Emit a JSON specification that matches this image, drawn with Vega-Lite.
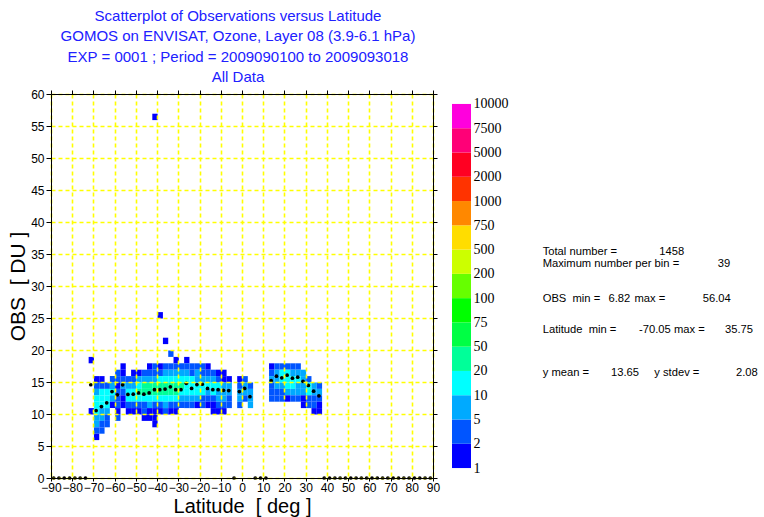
{
  "$schema": "https://vega.github.io/schema/vega-lite/v6.json",
  "background": "white",
  "padding": {"left": 7, "top": 8, "right": 0, "bottom": 0},
  "config": {"font": "Liberation Sans", "view": {"stroke": null}},
  "spacing": 19,
  "bounds": "flush",
  "resolve": {"scale": {"color": "independent"}},
  "datasets": {
    "cells": [
      {"lat":-72.5,"obs":18,"n":1},{"lat":-72.5,"obs":10,"n":1},
      {"lat":-70,"obs":15,"n":1},{"lat":-70,"obs":14,"n":3},{"lat":-70,"obs":13,"n":7},{"lat":-70,"obs":12,"n":15},{"lat":-70,"obs":11,"n":15},{"lat":-70,"obs":10,"n":15},{"lat":-70,"obs":9,"n":7},{"lat":-70,"obs":8,"n":7},{"lat":-70,"obs":7,"n":3},{"lat":-70,"obs":6,"n":1},
      {"lat":-67.5,"obs":15,"n":1},{"lat":-67.5,"obs":14,"n":3},{"lat":-67.5,"obs":13,"n":15},{"lat":-67.5,"obs":12,"n":15},{"lat":-67.5,"obs":11,"n":15},{"lat":-67.5,"obs":10,"n":7},{"lat":-67.5,"obs":9,"n":7},{"lat":-67.5,"obs":8,"n":3},{"lat":-67.5,"obs":7,"n":3},
      {"lat":-65,"obs":14,"n":3},{"lat":-65,"obs":13,"n":15},{"lat":-65,"obs":12,"n":15},{"lat":-65,"obs":11,"n":15},{"lat":-65,"obs":10,"n":7},{"lat":-65,"obs":9,"n":3},{"lat":-65,"obs":8,"n":3},
      {"lat":-62.5,"obs":15,"n":3},{"lat":-62.5,"obs":14,"n":7},{"lat":-62.5,"obs":13,"n":15},{"lat":-62.5,"obs":12,"n":7},{"lat":-62.5,"obs":11,"n":1},
      {"lat":-60,"obs":16,"n":3},{"lat":-60,"obs":15,"n":3},{"lat":-60,"obs":14,"n":1},{"lat":-60,"obs":13,"n":3},{"lat":-60,"obs":12,"n":3},{"lat":-60,"obs":11,"n":3},{"lat":-60,"obs":10,"n":1},{"lat":-60,"obs":9,"n":3},
      {"lat":-57.5,"obs":17,"n":1},{"lat":-57.5,"obs":16,"n":1},{"lat":-57.5,"obs":15,"n":3},{"lat":-57.5,"obs":14,"n":7},{"lat":-57.5,"obs":13,"n":3},{"lat":-57.5,"obs":12,"n":1},{"lat":-57.5,"obs":11,"n":1},
      {"lat":-55,"obs":15,"n":3},{"lat":-55,"obs":14,"n":7},{"lat":-55,"obs":13,"n":15},{"lat":-55,"obs":12,"n":15},{"lat":-55,"obs":11,"n":3},{"lat":-55,"obs":10,"n":1},
      {"lat":-52.5,"obs":16,"n":1},{"lat":-52.5,"obs":15,"n":3},{"lat":-52.5,"obs":14,"n":7},{"lat":-52.5,"obs":13,"n":15},{"lat":-52.5,"obs":12,"n":15},{"lat":-52.5,"obs":11,"n":3},{"lat":-52.5,"obs":10,"n":1},
      {"lat":-50,"obs":16,"n":1},{"lat":-50,"obs":15,"n":7},{"lat":-50,"obs":14,"n":15},{"lat":-50,"obs":13,"n":30},{"lat":-50,"obs":12,"n":15},{"lat":-50,"obs":11,"n":3},{"lat":-50,"obs":10,"n":1},
      {"lat":-47.5,"obs":16,"n":3},{"lat":-47.5,"obs":15,"n":7},{"lat":-47.5,"obs":14,"n":30},{"lat":-47.5,"obs":13,"n":30},{"lat":-47.5,"obs":12,"n":15},{"lat":-47.5,"obs":11,"n":3},{"lat":-47.5,"obs":10,"n":3},{"lat":-47.5,"obs":9,"n":1},
      {"lat":-45,"obs":17,"n":1},{"lat":-45,"obs":16,"n":3},{"lat":-45,"obs":15,"n":7},{"lat":-45,"obs":14,"n":30},{"lat":-45,"obs":13,"n":30},{"lat":-45,"obs":12,"n":15},{"lat":-45,"obs":11,"n":7},{"lat":-45,"obs":10,"n":1},{"lat":-45,"obs":9,"n":1},
      {"lat":-42.5,"obs":56,"n":1},{"lat":-42.5,"obs":17,"n":3},{"lat":-42.5,"obs":16,"n":3},{"lat":-42.5,"obs":15,"n":7},{"lat":-42.5,"obs":14,"n":30},{"lat":-42.5,"obs":13,"n":30},{"lat":-42.5,"obs":12,"n":15},{"lat":-42.5,"obs":11,"n":3},{"lat":-42.5,"obs":10,"n":1},{"lat":-42.5,"obs":9,"n":1},{"lat":-42.5,"obs":8,"n":1},
      {"lat":-40,"obs":25,"n":1},{"lat":-40,"obs":17,"n":1},{"lat":-40,"obs":16,"n":3},{"lat":-40,"obs":15,"n":15},{"lat":-40,"obs":14,"n":30},{"lat":-40,"obs":13,"n":30},{"lat":-40,"obs":12,"n":15},{"lat":-40,"obs":11,"n":3},{"lat":-40,"obs":10,"n":1},
      {"lat":-37.5,"obs":21,"n":1},{"lat":-37.5,"obs":17,"n":3},{"lat":-37.5,"obs":16,"n":7},{"lat":-37.5,"obs":15,"n":15},{"lat":-37.5,"obs":14,"n":30},{"lat":-37.5,"obs":13,"n":30},{"lat":-37.5,"obs":12,"n":15},{"lat":-37.5,"obs":11,"n":7},{"lat":-37.5,"obs":10,"n":3},
      {"lat":-35,"obs":19,"n":3},{"lat":-35,"obs":17,"n":3},{"lat":-35,"obs":16,"n":7},{"lat":-35,"obs":15,"n":15},{"lat":-35,"obs":14,"n":30},{"lat":-35,"obs":13,"n":30},{"lat":-35,"obs":12,"n":15},{"lat":-35,"obs":11,"n":3},{"lat":-35,"obs":10,"n":1},
      {"lat":-32.5,"obs":18,"n":1},{"lat":-32.5,"obs":17,"n":3},{"lat":-32.5,"obs":16,"n":7},{"lat":-32.5,"obs":15,"n":15},{"lat":-32.5,"obs":14,"n":30},{"lat":-32.5,"obs":13,"n":30},{"lat":-32.5,"obs":12,"n":15},{"lat":-32.5,"obs":11,"n":3},{"lat":-32.5,"obs":10,"n":1},
      {"lat":-30,"obs":17,"n":3},{"lat":-30,"obs":16,"n":7},{"lat":-30,"obs":15,"n":15},{"lat":-30,"obs":14,"n":30},{"lat":-30,"obs":13,"n":15},{"lat":-30,"obs":12,"n":7},{"lat":-30,"obs":11,"n":3},
      {"lat":-27.5,"obs":18,"n":1},{"lat":-27.5,"obs":17,"n":3},{"lat":-27.5,"obs":16,"n":7},{"lat":-27.5,"obs":15,"n":15},{"lat":-27.5,"obs":14,"n":15},{"lat":-27.5,"obs":13,"n":15},{"lat":-27.5,"obs":12,"n":7},{"lat":-27.5,"obs":11,"n":3},
      {"lat":-25,"obs":17,"n":3},{"lat":-25,"obs":16,"n":3},{"lat":-25,"obs":15,"n":15},{"lat":-25,"obs":14,"n":15},{"lat":-25,"obs":13,"n":15},{"lat":-25,"obs":12,"n":7},{"lat":-25,"obs":11,"n":3},
      {"lat":-22.5,"obs":17,"n":3},{"lat":-22.5,"obs":16,"n":7},{"lat":-22.5,"obs":15,"n":7},{"lat":-22.5,"obs":14,"n":15},{"lat":-22.5,"obs":13,"n":15},{"lat":-22.5,"obs":12,"n":7},{"lat":-22.5,"obs":11,"n":1},
      {"lat":-20,"obs":17,"n":3},{"lat":-20,"obs":16,"n":3},{"lat":-20,"obs":15,"n":7},{"lat":-20,"obs":14,"n":15},{"lat":-20,"obs":13,"n":15},{"lat":-20,"obs":12,"n":3},{"lat":-20,"obs":11,"n":3},
      {"lat":-17.5,"obs":17,"n":1},{"lat":-17.5,"obs":16,"n":3},{"lat":-17.5,"obs":15,"n":7},{"lat":-17.5,"obs":14,"n":15},{"lat":-17.5,"obs":13,"n":7},{"lat":-17.5,"obs":12,"n":3},{"lat":-17.5,"obs":11,"n":1},
      {"lat":-15,"obs":16,"n":3},{"lat":-15,"obs":15,"n":7},{"lat":-15,"obs":14,"n":15},{"lat":-15,"obs":13,"n":15},{"lat":-15,"obs":12,"n":3},{"lat":-15,"obs":11,"n":1},{"lat":-15,"obs":10,"n":1},
      {"lat":-12.5,"obs":16,"n":1},{"lat":-12.5,"obs":15,"n":3},{"lat":-12.5,"obs":14,"n":15},{"lat":-12.5,"obs":13,"n":7},{"lat":-12.5,"obs":12,"n":7},{"lat":-12.5,"obs":11,"n":3},{"lat":-12.5,"obs":10,"n":1},
      {"lat":-10,"obs":16,"n":1},{"lat":-10,"obs":15,"n":1},{"lat":-10,"obs":14,"n":7},{"lat":-10,"obs":13,"n":7},{"lat":-10,"obs":12,"n":7},{"lat":-10,"obs":11,"n":3},{"lat":-10,"obs":10,"n":1},
      {"lat":-7.5,"obs":15,"n":1},{"lat":-7.5,"obs":14,"n":7},{"lat":-7.5,"obs":13,"n":7},{"lat":-7.5,"obs":12,"n":3},{"lat":-7.5,"obs":11,"n":3},
      {"lat":-2.5,"obs":15,"n":1},{"lat":-2.5,"obs":14,"n":3},{"lat":-2.5,"obs":13,"n":7},{"lat":-2.5,"obs":12,"n":7},{"lat":-2.5,"obs":11,"n":3},
      {"lat":0,"obs":15,"n":3},{"lat":0,"obs":14,"n":7},{"lat":0,"obs":13,"n":7},{"lat":0,"obs":12,"n":3},
      {"lat":2.5,"obs":14,"n":3},{"lat":2.5,"obs":13,"n":7},{"lat":2.5,"obs":12,"n":7},{"lat":2.5,"obs":11,"n":7},
      {"lat":12.5,"obs":17,"n":1},{"lat":12.5,"obs":16,"n":3},{"lat":12.5,"obs":15,"n":7},{"lat":12.5,"obs":14,"n":3},{"lat":12.5,"obs":13,"n":3},{"lat":12.5,"obs":12,"n":3},
      {"lat":15,"obs":17,"n":3},{"lat":15,"obs":16,"n":7},{"lat":15,"obs":15,"n":7},{"lat":15,"obs":14,"n":7},{"lat":15,"obs":13,"n":3},{"lat":15,"obs":12,"n":3},
      {"lat":17.5,"obs":17,"n":3},{"lat":17.5,"obs":16,"n":15},{"lat":17.5,"obs":15,"n":15},{"lat":17.5,"obs":14,"n":7},{"lat":17.5,"obs":13,"n":3},{"lat":17.5,"obs":12,"n":3},
      {"lat":20,"obs":17,"n":3},{"lat":20,"obs":16,"n":15},{"lat":20,"obs":15,"n":15},{"lat":20,"obs":14,"n":15},{"lat":20,"obs":13,"n":7},{"lat":20,"obs":12,"n":1},
      {"lat":22.5,"obs":17,"n":3},{"lat":22.5,"obs":16,"n":7},{"lat":22.5,"obs":15,"n":15},{"lat":22.5,"obs":14,"n":15},{"lat":22.5,"obs":13,"n":7},{"lat":22.5,"obs":12,"n":3},
      {"lat":25,"obs":17,"n":3},{"lat":25,"obs":16,"n":7},{"lat":25,"obs":15,"n":15},{"lat":25,"obs":14,"n":7},{"lat":25,"obs":13,"n":7},{"lat":25,"obs":12,"n":3},
      {"lat":27.5,"obs":16,"n":7},{"lat":27.5,"obs":15,"n":7},{"lat":27.5,"obs":14,"n":7},{"lat":27.5,"obs":13,"n":7},{"lat":27.5,"obs":12,"n":1},{"lat":27.5,"obs":11,"n":1},
      {"lat":30,"obs":15,"n":3},{"lat":30,"obs":14,"n":15},{"lat":30,"obs":13,"n":15},{"lat":30,"obs":12,"n":3},{"lat":30,"obs":11,"n":3},
      {"lat":32.5,"obs":14,"n":7},{"lat":32.5,"obs":13,"n":7},{"lat":32.5,"obs":12,"n":3},{"lat":32.5,"obs":11,"n":3},{"lat":32.5,"obs":10,"n":1},
      {"lat":35,"obs":14,"n":3},{"lat":35,"obs":13,"n":7},{"lat":35,"obs":12,"n":3},{"lat":35,"obs":11,"n":1},{"lat":35,"obs":10,"n":1}
    ],
    "means": [
      {"lat":-88.75,"m":0},{"lat":-86.25,"m":0},{"lat":-83.75,"m":0},{"lat":-81.25,"m":0},{"lat":-78.75,"m":0},{"lat":-76.25,"m":0},{"lat":-73.75,"m":0},
      {"lat":-71.25,"m":14.57},{"lat":-68.75,"m":10.54},{"lat":-66.25,"m":11.17},{"lat":-63.75,"m":11.75},{"lat":-61.25,"m":13.5},{"lat":-58.75,"m":13.0},{"lat":-56.25,"m":14.56},{"lat":-53.75,"m":13.05},{"lat":-51.25,"m":13.1},{"lat":-48.75,"m":13.3},{"lat":-46.25,"m":13.1},{"lat":-43.75,"m":13.3},{"lat":-41.25,"m":13.8},{"lat":-38.75,"m":13.8},{"lat":-36.25,"m":13.9},{"lat":-33.75,"m":14.25},{"lat":-31.25,"m":13.8},{"lat":-28.75,"m":13.8},{"lat":-26.25,"m":14.8},{"lat":-23.75,"m":14.0},{"lat":-21.25,"m":14.6},{"lat":-18.75,"m":14.66},{"lat":-16.25,"m":14.0},{"lat":-13.75,"m":13.8},{"lat":-11.25,"m":13.8},{"lat":-8.75,"m":13.7},{"lat":-6.25,"m":13.67},
      {"lat":-3.75,"m":0},{"lat":-1.25,"m":13.5},{"lat":1.25,"m":14.0},{"lat":3.75,"m":12.7},{"lat":6.25,"m":0},{"lat":8.75,"m":0},{"lat":11.25,"m":0},
      {"lat":13.75,"m":15.2},{"lat":16.25,"m":15.9},{"lat":18.75,"m":15.66},{"lat":21.25,"m":16.07},{"lat":23.75,"m":15.6},{"lat":26.25,"m":15.76},{"lat":28.75,"m":15.1},{"lat":31.25,"m":14.46},{"lat":33.75,"m":13.56},{"lat":36.25,"m":12.84},
      {"lat":38.75,"m":0},{"lat":41.25,"m":0},{"lat":43.75,"m":0},{"lat":46.25,"m":0},{"lat":48.75,"m":0},{"lat":51.25,"m":0},{"lat":53.75,"m":0},{"lat":56.25,"m":0},{"lat":58.75,"m":0},{"lat":61.25,"m":0},{"lat":63.75,"m":0},{"lat":66.25,"m":0},{"lat":68.75,"m":0},{"lat":71.25,"m":0},{"lat":73.75,"m":0},{"lat":76.25,"m":0},{"lat":78.75,"m":0},{"lat":81.25,"m":0},{"lat":83.75,"m":0},{"lat":86.25,"m":0},{"lat":88.75,"m":0}
    ],
    "bar": [
      {"lo":0,"hi":1,"n":1},{"lo":1,"hi":2,"n":2},{"lo":2,"hi":3,"n":5},{"lo":3,"hi":4,"n":10},{"lo":4,"hi":5,"n":20},{"lo":5,"hi":6,"n":50},{"lo":6,"hi":7,"n":75},{"lo":7,"hi":8,"n":100},{"lo":8,"hi":9,"n":200},{"lo":9,"hi":10,"n":500},{"lo":10,"hi":11,"n":750},{"lo":11,"hi":12,"n":1000},{"lo":12,"hi":13,"n":2000},{"lo":13,"hi":14,"n":5000},{"lo":14,"hi":15,"n":7500}
    ],
    "stats": [
      {"t":"Total number =","px":52.7,"py":158.4},
      {"t":"1458","px":169.3,"py":158.4},
      {"t":"Maximum number per bin =","px":52.7,"py":169.5},
      {"t":"39","px":227.7,"py":169.5},
      {"t":"OBS\u00a0\u00a0min =","px":52.7,"py":204.7},
      {"t":"6.82","px":118.5,"py":204.7},
      {"t":"max =","px":144.5,"py":204.7},
      {"t":"56.04","px":212.7,"py":204.7},
      {"t":"Latitude\u00a0\u00a0min =","px":52.7,"py":235.7},
      {"t":"-70.05","px":149,"py":235.7},
      {"t":"max =","px":184,"py":235.7},
      {"t":"35.75","px":235,"py":235.7},
      {"t":"y mean =","px":52.7,"py":279},
      {"t":"13.65","px":121,"py":279},
      {"t":"y stdev =","px":164.3,"py":279},
      {"t":"2.08","px":246,"py":279}
    ]
  },
  "hconcat": [
    {
      "width": 382,
      "height": 384,
      "view": {"stroke": "black"},
      "title": {
        "text": ["Scatterplot of Observations versus Latitude", "GOMOS on ENVISAT, Ozone, Layer 08 (3.9-6.1 hPa)", "EXP = 0001 ; Period = 2009090100 to 2009093018", "All Data"],
        "color": "#2020ff",
        "font": "Liberation Sans",
        "fontSize": 15,
        "fontWeight": "normal",
        "lineHeight": 20.5,
        "anchor": "middle",
        "dx": -4,
        "offset": 3
      },
      "layer": [
        {
          "data": {"name": "cells"},
          "mark": {"type": "rect", "binSpacing": 0},
          "encoding": {
            "x": {"field": "lat", "type": "quantitative", "bin": {"binned": true, "step": 2.5},
              "scale": {"domain": [-90, 90], "nice": false, "zero": false},
              "axis": {"orient": "bottom", "values": [-90,-80,-70,-60,-50,-40,-30,-20,-10,0,10,20,30,40,50,60,70,80,90],
                "title": "Latitude\u00a0\u00a0[ deg ]", "titleFontSize": 20, "titleFontWeight": "normal", "titleColor": "black", "titlePadding": 3,
                "labelFontSize": 12, "labelColor": "black", "labelFlush": false, "labelOverlap": false, "labelPadding": 1,
                "tickSize": 3, "tickColor": "black", "domainColor": "black",
                "grid": true, "gridColor": "#ffff00", "gridDash": [4, 3], "gridOpacity": 1, "gridWidth": 1.6, "zindex": 1}},
            "y": {"field": "obs", "type": "quantitative", "bin": {"binned": true, "step": 1},
              "scale": {"domain": [0, 60], "nice": false, "zero": false},
              "axis": {"orient": "left", "values": [0,5,10,15,20,25,30,35,40,45,50,55,60],
                "title": "OBS\u00a0\u00a0[ DU ]", "titleFontSize": 21, "titleFontWeight": "normal", "titleColor": "black", "titlePadding": 2,
                "labelFontSize": 12, "labelColor": "black", "labelPadding": 2,
                "tickSize": 5, "tickColor": "black", "domainColor": "black",
                "grid": true, "gridColor": "#ffff00", "gridDash": [4, 3], "gridOpacity": 1, "gridWidth": 1.6, "zindex": 1}},
            "color": {"field": "n", "type": "quantitative",
              "scale": {"type": "threshold", "domain": [2,5,10,20,50,75,100,200,500,750,1000,2000,5000,7500],
                "range": ["#0000ff","#0055ff","#00aaff","#00ffff","#00ff99","#00ff44","#00ff00","#66ff00","#ccff00","#ffdd00","#ff8800","#ff3300","#ff0022","#ff0077","#ff00dd"]},
              "legend": null}
          }
        },
        {
          "data": {"name": "means"},
          "mark": {"type": "circle", "size": 14, "color": "black", "opacity": 1, "clip": false},
          "encoding": {
            "x": {"field": "lat", "type": "quantitative",
              "axis": {"orient": "top", "values": [-90,-80,-70,-60,-50,-40,-30,-20,-10,0,10,20,30,40,50,60,70,80,90],
                "labels": false, "title": null, "grid": false, "tickSize": 4, "tickColor": "black", "domainColor": "black", "zindex": 1}},
            "y": {"field": "m", "type": "quantitative",
              "axis": {"orient": "right", "values": [0,5,10,15,20,25,30,35,40,45,50,55,60],
                "labels": false, "title": null, "grid": false, "tickSize": 4, "tickColor": "black", "domainColor": "black", "zindex": 1}}
          }
        }
      ]
    },
    {
      "width": 19,
      "height": 384,
      "data": {"name": "bar"},
      "mark": {"type": "rect"},
      "encoding": {
        "y": {"field": "lo", "type": "quantitative",
          "scale": {"domain": [-0.41, 15.41], "nice": false, "zero": false},
          "axis": {"orient": "right", "values": [0,1,2,3,4,5,6,7,8,9,10,11,12,13,14,15],
            "labelExpr": "['1','2','5','10','20','50','75','100','200','500','750','1000','2000','5000','7500','10000'][datum.value]",
            "labelFont": "Liberation Serif", "labelFontSize": 14, "labelColor": "black", "labelPadding": 2,
            "domain": false, "ticks": false, "grid": false, "title": null, "labelOverlap": false, "labelFlush": false}},
        "y2": {"field": "hi"},
        "color": {"field": "n", "type": "quantitative",
          "scale": {"type": "threshold", "domain": [2,5,10,20,50,75,100,200,500,750,1000,2000,5000,7500],
            "range": ["#0000ff","#0055ff","#00aaff","#00ffff","#00ff99","#00ff44","#00ff00","#66ff00","#ccff00","#ffdd00","#ff8800","#ff3300","#ff0022","#ff0077","#ff00dd"]},
          "legend": null}
      }
    },
    {
      "width": 270,
      "height": 384,
      "data": {"name": "stats"},
      "mark": {"type": "text", "align": "left", "baseline": "middle", "font": "Liberation Sans", "fontSize": 11.2, "color": "black"},
      "encoding": {
        "x": {"field": "px", "type": "quantitative", "scale": {"domain": [0, 270], "nice": false, "zero": false}, "axis": null},
        "y": {"field": "py", "type": "quantitative", "scale": {"domain": [0, 384], "nice": false, "zero": false, "reverse": true}, "axis": null},
        "text": {"field": "t"}
      }
    }
  ]
}
